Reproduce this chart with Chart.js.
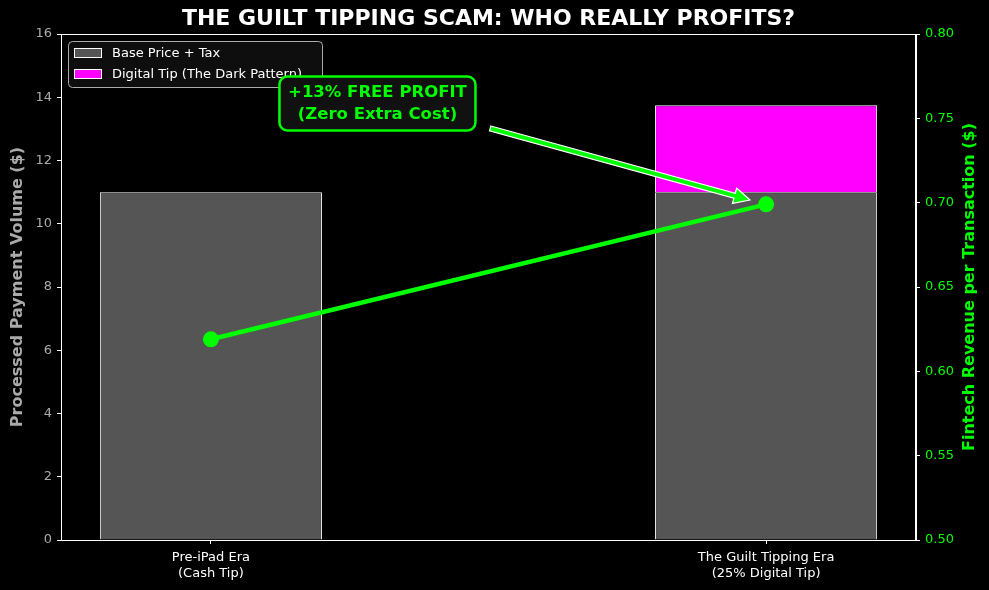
<!DOCTYPE html>
<html><head><meta charset="utf-8">
<script src="https://cdn.jsdelivr.net/npm/chart.js@4.4.0/dist/chart.umd.min.js"></script>
<style>html,body{margin:0;padding:0;background:#000;}#wrap{width:989px;height:590px;}</style>
</head><body><div id="wrap"><canvas id="c" width="989" height="590"></canvas></div>
<script>
const categoryPositions = [0, 1];
const categoryLabels = [["Pre-iPad Era", "(Cash Tip)"], ["The Guilt Tipping Era", "(25% Digital Tip)"]];
const basePriceTax = [11, 11];
const digitalTip = [null, 2.75];
const fintechRevenue = [0.619, 0.699];
const leftTicks = [0, 2, 4, 6, 8, 10, 12, 14, 16];
const rightTicks = [0.50, 0.55, 0.60, 0.65, 0.70, 0.75, 0.80];
const titleText = "THE GUILT TIPPING SCAM: WHO REALLY PROFITS?";
const annotationLines = ["+13% FREE PROFIT", "(Zero Extra Cost)"];
const annotationTextAt = {x: 0.3, y: 0.7588};
const arrowFrom = {x: 0.503, y: 0.744};
const arrowTo = {x: 0.971, y: 0.7016};
const legendItems = [{label: "Base Price + Tax", color: "#555555"}, {label: "Digital Tip (The Dark Pattern)", color: "#ff00ff"}];

const FONT = "'DejaVu Sans', sans-serif";

const pts = (ys) => categoryPositions.map((x, i) => ({x: x, y: ys[i]}));

const overlay = {
  id: 'overlay',
  afterDraw(chart) {
    const ctx = chart.ctx, a = chart.chartArea;
    const xs = chart.scales.x, y2 = chart.scales.y2;
    ctx.save();
    // frame
    ctx.strokeStyle = '#ffffff'; ctx.lineWidth = 1;
    ctx.strokeRect(a.left + 0.5, a.top + 0.5, a.right - a.left - 1, a.bottom - a.top);
    // title
    ctx.fillStyle = '#ffffff';
    ctx.font = "bold 22px " + FONT;
    ctx.textAlign = 'center'; ctx.textBaseline = 'middle';
    ctx.fillText(titleText, (a.left + a.right) / 2, 19);
    // axis titles
    ctx.font = "bold 16px " + FONT;
    ctx.save(); ctx.translate(18, (a.top + a.bottom) / 2); ctx.rotate(-Math.PI / 2);
    ctx.fillStyle = '#aaaaaa'; ctx.fillText("Processed Payment Volume ($)", 0, 0); ctx.restore();
    ctx.save(); ctx.translate(970, (a.top + a.bottom) / 2); ctx.rotate(-Math.PI / 2);
    ctx.fillStyle = '#00ff00'; ctx.fillText("Fintech Revenue per Transaction ($)", 0, 0); ctx.restore();
    // legend
    const lx = a.left + 7, ly = a.top + 7, lw = 254, lh = 46;
    ctx.beginPath(); ctx.roundRect(lx + 0.5, ly + 0.5, lw, lh, 4);
    ctx.fillStyle = 'rgba(17,17,17,0.85)'; ctx.fill();
    ctx.strokeStyle = '#aaaaaa'; ctx.lineWidth = 1; ctx.stroke();
    ctx.font = "13px " + FONT; ctx.textAlign = 'left';
    legendItems.forEach((it, i) => {
      const yy = ly + 7 + i * 21;
      ctx.fillStyle = it.color; ctx.fillRect(lx + 6.5, yy + 0.5, 27, 9);
      ctx.strokeStyle = '#ffffff'; ctx.strokeRect(lx + 6.5, yy + 0.5, 27, 9);
      ctx.fillStyle = '#ffffff'; ctx.fillText(it.label, lx + 44, yy + 5.5);
    });
    // arrow
    const x0 = xs.getPixelForValue(arrowFrom.x), y0 = y2.getPixelForValue(arrowFrom.y);
    const x1 = xs.getPixelForValue(arrowTo.x), y1 = y2.getPixelForValue(arrowTo.y);
    const ang = Math.atan2(y1 - y0, x1 - x0), len = Math.hypot(x1 - x0, y1 - y0);
    const sw = 2.5, hw = 8, hl = 16;
    ctx.save(); ctx.translate(x0, y0); ctx.rotate(ang);
    ctx.beginPath();
    ctx.moveTo(0, -sw); ctx.lineTo(len - hl, -sw); ctx.lineTo(len - hl, -hw);
    ctx.lineTo(len, 0); ctx.lineTo(len - hl, hw); ctx.lineTo(len - hl, sw); ctx.lineTo(0, sw); ctx.closePath();
    ctx.fillStyle = '#00ff00'; ctx.fill();
    ctx.strokeStyle = '#ffffff'; ctx.lineWidth = 1.2; ctx.stroke();
    ctx.restore();
    // annotation box
    const tx = xs.getPixelForValue(annotationTextAt.x), ty = y2.getPixelForValue(annotationTextAt.y);
    const bw = 196, bh = 54;
    ctx.beginPath(); ctx.roundRect(tx - bw / 2, ty - bh / 2, bw, bh, 8);
    ctx.fillStyle = '#111111'; ctx.fill();
    ctx.strokeStyle = '#00ff00'; ctx.lineWidth = 2.5; ctx.stroke();
    ctx.fillStyle = '#00ff00'; ctx.font = "bold 16.5px " + FONT; ctx.textAlign = 'center';
    ctx.fillText(annotationLines[0], tx, ty - 11);
    ctx.fillText(annotationLines[1], tx, ty + 11);
    ctx.restore();
  }
};

new Chart(document.getElementById('c'), {
  type: 'bar',
  data: {
    datasets: [
      {type: 'line', label: 'Fintech Revenue', data: pts(fintechRevenue), yAxisID: 'y2', xAxisID: 'x',
       borderColor: '#00ff00', backgroundColor: '#00ff00', borderWidth: 4.5, pointRadius: 8, pointHoverRadius: 8,
       pointBackgroundColor: '#00ff00', pointBorderWidth: 0, order: 0, stack: 'line'},
      {label: legendItems[0].label, data: pts(basePriceTax), backgroundColor: '#555555', borderColor: '#ffffff',
       borderWidth: 1, stack: 'bars', order: 1, barPercentage: 0.4, categoryPercentage: 1.0},
      {label: legendItems[1].label, data: pts(digitalTip), backgroundColor: '#ff00ff', borderColor: '#ffffff',
       borderWidth: 1, stack: 'bars', order: 2, barPercentage: 0.4, categoryPercentage: 1.0}
    ]
  },
  options: {
    responsive: false, animation: false, devicePixelRatio: 1,
    layout: {padding: {top: 34, left: 0, right: 0, bottom: 0}},
    plugins: {legend: {display: false}, title: {display: false}, tooltip: {enabled: false}},
    scales: {
      x: {type: 'linear', min: -0.27, max: 1.27, offset: false, stacked: true,
          afterBuildTicks: s => { s.ticks = categoryPositions.map(v => ({value: v})); },
          afterFit: s => { s.height = 50; },
          ticks: {color: '#ffffff', font: {family: FONT, size: 13}, padding: 6, maxRotation: 0, autoSkip: false,
                  callback: (v) => categoryLabels[categoryPositions.indexOf(v)]},
          grid: {display: true, drawOnChartArea: false, drawTicks: true, tickLength: 4, color: '#ffffff', offset: false},
          border: {color: '#ffffff', width: 1}},
      y: {position: 'left', min: 0, max: 16, stacked: true,
          afterBuildTicks: s => { s.ticks = leftTicks.map(v => ({value: v})); },
          afterFit: s => { s.width = 61; },
          ticks: {color: '#aaaaaa', font: {family: FONT, size: 13}, padding: 5},
          grid: {drawOnChartArea: false, tickLength: 4, color: '#ffffff'},
          border: {color: '#ffffff', width: 1}},
      y2: {position: 'right', min: 0.5, max: 0.8,
          afterBuildTicks: s => { s.ticks = rightTicks.map(v => ({value: v})); },
          afterFit: s => { s.width = 73; },
          ticks: {color: '#00ff00', font: {family: FONT, size: 13}, padding: 5, callback: v => v.toFixed(2)},
          grid: {drawOnChartArea: false, tickLength: 4, color: '#ffffff'},
          border: {color: '#ffffff', width: 1}}
    }
  },
  plugins: [overlay]
});
</script></body></html>
